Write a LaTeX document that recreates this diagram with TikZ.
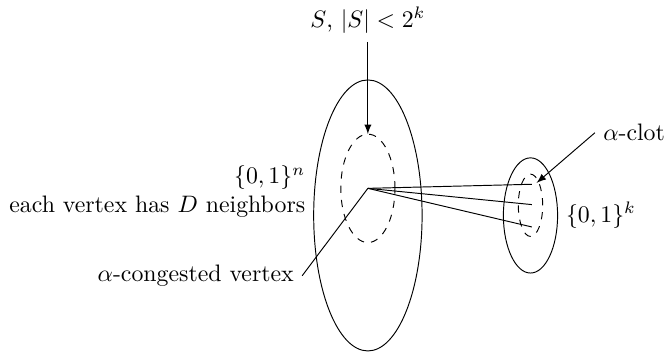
\documentclass[tikz,border=0pt]{standalone}
\begin{document}
\begin{tikzpicture}[scale=1]
\useasboundingbox (-5.43,-2.02) rectangle (4.40,3.18);
% the big cube and the small one
\draw (0,0) ellipse (0.8 and 2);
\draw[dashed] (0,0.4) ellipse (0.4 and 0.8);
\draw (2.4,0) ellipse (0.4 and 0.85);
\draw[dashed] (2.4,0.15) ellipse (0.18 and 0.46);
\coordinate (v) at (0,0.4);
\coordinate (top) at (0,1.2);
\coordinate (tip) at (2.49,0.48);
\foreach \y [count=\i] in {0.46,0.16,-0.17}
  \coordinate (n\i) at (2.42,\y);
% labels
\node[left, align=right] (cube) at (-0.8,0.35) {$\{0,1\}^n$\\ each vertex has $D$ neighbors};
\node[right] (small) at (2.8,0) {$\{0,1\}^k$};
\node[above] (set) at (0,2.56) {$S$, $|S|<2^k$};
\node[right] (clot) at (3.35,1.22) {$\alpha$-clot};
\node[left] (cong) at (-0.97,-0.89) {$\alpha$-congested vertex};
% edges
\foreach \i in {1,2,3}
  \draw (v) -- (n\i);
\draw[-latex] (set) -- (top);
\draw[-latex] (clot.west) -- (tip);
\draw (cong.east) -- (v);
\end{tikzpicture}
\end{document}
